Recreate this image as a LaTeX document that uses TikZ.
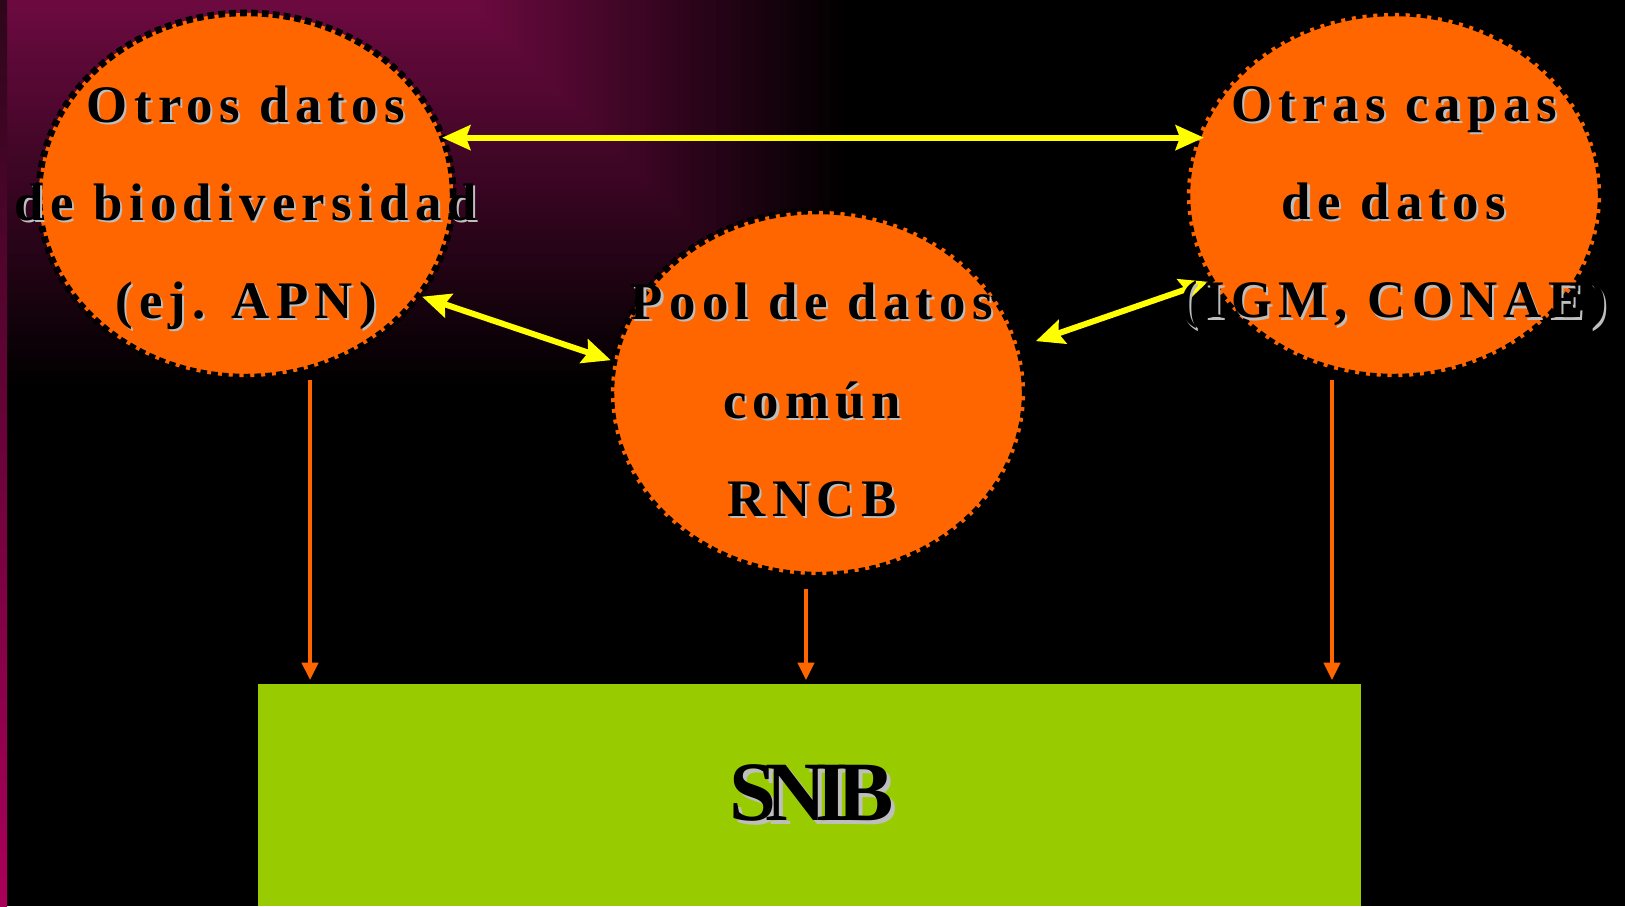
\documentclass[tikz,border=0pt]{standalone}
\usepackage{fontspec}
\setmainfont{Liberation Serif}
\usepackage{tikz}
\usetikzlibrary{
    arrows.meta,
    shapes.geometric
}
\newfontfamily\bubfont[LetterSpace=12]{Liberation Serif Bold}
\newfontfamily\snibfont[LetterSpace=-13]{Liberation Serif Bold}
\definecolor{bgmagenta}{RGB}{108,10,64}
\definecolor{stripdark}{RGB}{45,6,26}
\definecolor{stripmag}{RGB}{170,0,90}
\definecolor{bubbleorange}{RGB}{255,102,0}
\definecolor{snibgreen}{RGB}{153,204,0}
\definecolor{shadowgray}{RGB}{190,190,190}
\definecolor{linkyellow}{RGB}{255,255,0}
\newcommand{\shd}[1]{\leavevmode\rlap{\kern0.6pt\raisebox{-0.6pt}{\textcolor{shadowgray}{#1}}}#1}
\newcommand{\shdbig}[1]{\leavevmode\rlap{\kern1.1pt\raisebox{-1.1pt}{\textcolor{shadowgray}{#1}}}#1}

\begin{document}
\begin{tikzpicture}[
    x=0.01cm, y=-0.01cm,
    bubble/.style={ellipse, draw=black, line width=1.9pt, dash pattern=on 1.9pt off 1.2pt, fill=bubbleorange, minimum width=4.14cm, minimum height=3.64cm, inner sep=0pt},
    bubtext/.style={font=\bubfont\fontsize{15}{27.9}\selectfont, align=center, text=black, inner sep=0pt},
    target/.style={rectangle, fill=snibgreen, minimum width=11.03cm, minimum height=2.22cm, inner sep=0pt, font=\snibfont\fontsize{24}{24}\selectfont},
    feed/.style={-{Triangle[length=5pt,width=4.5pt]}, line width=1.2pt, draw=bubbleorange},
    link/.style={{Stealth[length=8pt,width=7pt,inset=1.2pt]}-{Stealth[length=8pt,width=7pt,inset=1.2pt]}, line width=1.7pt, draw=linkyellow}
]

% Background
\fill[black] (0,0) rectangle (1625,906);
\foreach \i in {0,...,59} {
    \pgfmathsetmacro{\pct}{100*\i/59}
    \pgfmathsetmacro{\fr}{1-\i/60}
    \fill[bgmagenta!\pct!black] (7,0) rectangle (467+383*\fr, 389*\fr);
}
\shade[top color=stripdark, bottom color=stripmag] (0,0) rectangle (7,906);

% Bubbles
\node[bubble] (otros) at (246,195) {};
\node[bubble] (capas) at (1394,195) {};
\node[bubble] (pool) at (818,393) {};

% SNIB
\node[target] (snib) at (809.5,795) {\hspace{0.05cm}\shdbig{SNIB}};

% Links between bubbles
\draw[link, shorten <=-0.04cm, shorten >=-0.1cm] (otros.16) -- (capas.164);
\draw[link] (otros.-30) -- (pool.171);
\draw[link, shorten <=0.15cm] (pool.13) -- (capas.205);

% Feeds into SNIB
\draw[feed, shorten >=0.03cm] ([xshift=0.64cm]otros.south) -- ([xshift=0.64cm]otros.south |- snib.north);
\draw[feed, shorten >=0.03cm] ([xshift=-0.12cm,yshift=-0.11cm]pool.south) -- ([xshift=-0.12cm]pool.south |- snib.north);
\draw[feed, shorten >=0.03cm] ([xshift=-0.62cm]capas.south) -- ([xshift=-0.62cm]capas.south |- snib.north);

% Bubble texts
\node[bubtext] (otrostxt) at (246,209) {\shd{Otros datos}\\\shd{de biodiversidad}\\\shd{(ej. APN)}};
\node[bubtext] (capastxt) at (1394,209) {\shd{Otras capas}\\\shd{de datos}\\\shd{(IGM, CONAE)}};
\node[bubtext] (pooltxt) at (812,401) {\shd{Pool de datos}\\\shd{común}\\\shd{RNCB}};

\end{tikzpicture}
\end{document}
